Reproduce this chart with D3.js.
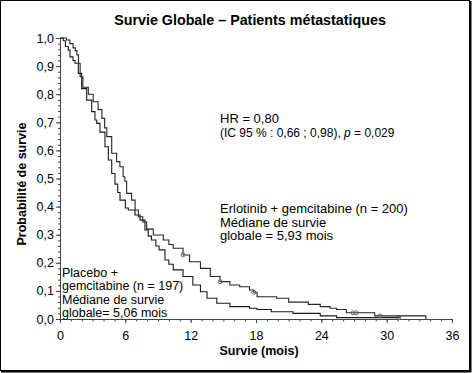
<!DOCTYPE html>
<html><head><meta charset="utf-8">
<script src="https://cdn.jsdelivr.net/npm/d3@7"></script>
<style>
html,body{margin:0;padding:0;background:#fff;}
svg{display:block;font-family:"Liberation Sans",Arial,sans-serif;}
</style></head>
<body>
<svg id="c" width="472" height="373"></svg>
<script>
// ---- data ----
const erlotinibTime = [0,0.6,0.9,1.2,1.4,1.55,1.7,1.85,2.1,2.6,3.05,3.5,3.85,4.1,4.3,4.75,5.2,5.5,5.8,5.95,6.12,6.58,6.9,7.2,7.6,7.96,8.57,9.49,10.0,10.4,11.3,11.9,12.9,13.8,14.7,15.6,16.5,17.4,17.8,18.1,19.9,21.0,22.8,23.9,24.8,25.4,26.3,28.9,33.6];
const erlotinibSurv = [1.0,0.993,0.98,0.965,0.955,0.94,0.91,0.862,0.825,0.80,0.773,0.745,0.714,0.68,0.649,0.59,0.56,0.542,0.506,0.49,0.447,0.423,0.388,0.364,0.345,0.32,0.299,0.281,0.265,0.252,0.228,0.204,0.18,0.151,0.133,0.121,0.115,0.103,0.095,0.079,0.074,0.06,0.052,0.044,0.038,0.034,0.022,0.011,0.0];
const erlotinibCensor = [11.3,14.7,17.8,26.9,27.2,29.4];

const placeboTime = [0,0.3,0.5,0.76,0.92,1.2,1.38,1.68,1.99,2.45,2.91,3.21,3.37,3.67,4.13,4.44,4.75,5.05,5.3,5.51,6.0,6.27,6.89,7.35,7.8,8.1,8.4,8.8,9.1,9.64,10.0,10.4,11.3,12.2,12.9,13.5,14.4,15.6,17.4,18.1,19.4,21.4,23.9,25.4,31.2];
const placeboSurv = [1.0,0.99,0.97,0.957,0.933,0.92,0.91,0.874,0.82,0.779,0.738,0.708,0.696,0.665,0.613,0.566,0.518,0.48,0.45,0.423,0.395,0.388,0.37,0.352,0.317,0.295,0.281,0.26,0.246,0.21,0.195,0.175,0.151,0.121,0.097,0.074,0.056,0.044,0.038,0.034,0.026,0.02,0.011,0.005,0.005];
const placeboCensor = [31.1];

const xTicks = [0,6,12,18,24,30,36];
const yTicks = [0,0.1,0.2,0.3,0.4,0.5,0.6,0.7,0.8,0.9,1.0];

const title = "Survie Globale \u2013 Patients métastatiques";
const xLabel = "Survie (mois)";
const yLabel = "Probabilité de survie";

// ---- drawing ----
const svg = d3.select("#c");
const x = d3.scaleLinear().domain([0,36]).range([60,452]);
const y = d3.scaleLinear().domain([0,1]).range([319,38]);
const fmt = d => d3.format(".1f")(d).replace(".", ",");

// frame
svg.append("rect").attr("x",0.5).attr("y",0.5).attr("width",469).attr("height",370)
  .attr("fill","#fff").attr("stroke","#000").attr("stroke-width",1);
svg.append("path").attr("d","M470.5,1V371.5H1").attr("fill","none").attr("stroke","#000").attr("stroke-width",2);

// title
svg.append("text").attr("x",250).attr("y",25).attr("text-anchor","middle")
  .attr("font-weight","bold").attr("font-size",14.3).text(title);

// axes minor
svg.append("g").attr("transform","translate(0,319)")
  .call(d3.axisBottom(x).tickValues(d3.range(0,37,1)).tickSize(2.5).tickFormat("").tickSizeOuter(0))
  .call(g=>g.selectAll("line,path").attr("stroke","#444"));
svg.append("g").attr("transform","translate(60,0)")
  .call(d3.axisLeft(y).tickValues(d3.range(0,51).map(i=>i/50)).tickSize(2).tickFormat("").tickSizeOuter(0))
  .call(g=>g.selectAll("line,path").attr("stroke","#444"));
// axes major
const gx = svg.append("g").attr("transform","translate(0,319)")
  .call(d3.axisBottom(x).tickValues(xTicks).tickSize(4).tickPadding(8).tickSizeOuter(0).tickFormat(d=>d));
const gy = svg.append("g").attr("transform","translate(60,0)")
  .call(d3.axisLeft(y).tickValues(yTicks).tickSize(4).tickPadding(2).tickSizeOuter(0).tickFormat(fmt));
[gx,gy].forEach(g=>{
  g.selectAll("line,path").attr("stroke","#444");
  g.selectAll("text").attr("font-size",12.5).attr("fill","#000")
   .attr("font-family","'Liberation Sans',Arial,sans-serif");
});

// axis labels
svg.append("text").attr("x",259).attr("y",355).attr("text-anchor","middle")
  .attr("font-weight","bold").attr("font-size",12.5).text(xLabel);
svg.append("text").attr("transform","translate(26,184) rotate(-90)").attr("text-anchor","middle")
  .attr("font-weight","bold").attr("font-size",12.5).text(yLabel);

// curves
const line = d3.line().x(d=>x(d[0])).y(d=>y(d[1])).curve(d3.curveStepAfter);
function km(times, survs, censor, color){
  const pts = times.map((t,i)=>[t,survs[i]]);
  svg.append("path").datum(pts).attr("d",line).attr("fill","none")
    .attr("stroke",color).attr("stroke-width",1.1);
  const sAt = t => { let s=1; times.forEach((tt,i)=>{ if(tt<=t) s=survs[i]; }); return s; };
  svg.append("g").selectAll("circle").data(censor).join("circle")
    .attr("cx",d=>x(d)).attr("cy",d=>y(sAt(d))).attr("r",2)
    .attr("fill","none").attr("stroke","#666").attr("stroke-width",1);
}
km(placeboTime, placeboSurv, placeboCensor, "#1a1a1a");
km(erlotinibTime, erlotinibSurv, erlotinibCensor, "#262626");

// annotations
function lines(xp, y0, dy, arr, size){
  const t = svg.append("text").attr("font-size",size).attr("fill","#000");
  arr.forEach((s,i)=>t.append("tspan").attr("x",xp).attr("y",y0+i*dy).text(s));
  return t;
}
lines(220,123,13,["HR = 0,80"],13);
const t2 = svg.append("text").attr("x",220).attr("y",137).attr("font-size",12);
t2.append("tspan").text("(IC 95 % : 0,66 ; 0,98), ");
t2.append("tspan").attr("font-style","italic").text("p");
t2.append("tspan").text(" = 0,029");
lines(220,213,13.5,["Erlotinib + gemcitabine (n = 200)","Médiane de survie","globale = 5,93 mois"],13);
lines(62,277,13.3,["Placebo +","gemcitabine (n = 197)","Médiane de survie","globale= 5,06 mois"],12.5);
</script>
</body></html>
